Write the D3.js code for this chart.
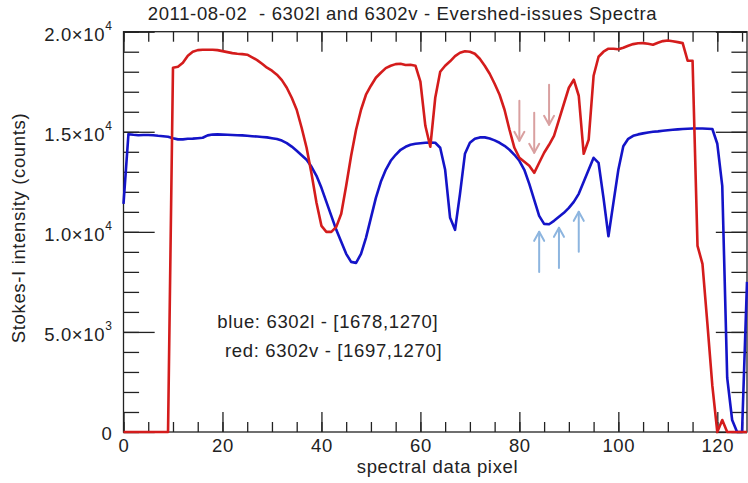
<!DOCTYPE html>
<html>
<head>
<meta charset="utf-8">
<script src="https://cdn.jsdelivr.net/npm/d3@7"></script>
<style>
  html, body { margin: 0; padding: 0; background: #fff; }
  svg { display: block; }
  text { font-family: "Liberation Sans", Arial, Helvetica, sans-serif; fill: #222; letter-spacing: 0.65px; }
</style>
</head>
<body>
<svg id="chart" width="748" height="483"></svg>
<script>
// ---- data ----
const pixels = d3.range(0, 127);
const blueValues = [
  11400, 14880, 14850, 14830, 14840, 14840, 14830, 14800, 14780, 14750,
  14680, 14620, 14620, 14650, 14660, 14680, 14700, 14820, 14860, 14870,
  14860, 14850, 14840, 14830, 14820, 14800, 14780, 14760, 14740, 14720,
  14680, 14640, 14560, 14430, 14260, 14050, 13830, 13600, 13250, 12800,
  12200, 11500, 10800, 10100, 9500, 8900, 8500, 8450, 8900, 9700,
  10700, 11700, 12500, 13100, 13550, 13850, 14100, 14250, 14350, 14400,
  14430, 14450, 14460, 14450, 14200, 13100, 10700, 10100, 11900, 13900,
  14450, 14650, 14720, 14720, 14660, 14570, 14450, 14300, 14100, 13850,
  13550, 13100, 12400, 11600, 10800, 10400, 10380, 10550, 10750, 10950,
  11200, 11500, 11900, 12500, 13100, 13700, 13450, 11700, 9780, 11450,
  13100, 14280, 14650, 14800, 14870, 14920, 14960, 15000, 15020, 15050,
  15080, 15100, 15120, 15140, 15150, 15160, 15160, 15160, 15150, 15140,
  14400, 12300, 2700, 600, 0, 0, 7500
];
const redValues = [
  0, 0, 0, 0, 0, 0, 0, 0, 0, 0,
  18200, 18250, 18450, 18800, 19000, 19080, 19100, 19100, 19100, 19080,
  19030, 18980, 18930, 18900, 18880, 18850, 18720, 18580, 18400, 18200,
  18050, 17850, 17580, 17200, 16700, 16100, 15200, 14200, 12900, 11450,
  10300, 10000, 10000, 10250, 10900, 12300, 13800, 15100, 16100, 16850,
  17300, 17700, 17950, 18180, 18300, 18380, 18400, 18340, 18350, 18300,
  17500, 15300, 14250, 16700, 18000, 18300, 18520, 18780, 18950, 19020,
  19000, 18900, 18650, 18300, 17900, 17400, 16850, 16100, 15100, 14200,
  13700, 13500, 13300, 12950, 13450, 13950, 14350, 14800, 15600, 16400,
  17200, 17600, 16800, 13900, 14600, 17800, 18750, 19000, 19150, 19150,
  19120, 19200, 19300, 19380, 19420, 19430, 19400, 19350, 19450, 19530,
  19560, 19520, 19480, 19430, 18550, 18550, 9300, 8400, 5400, 2300,
  0, 600, 0, 0, 0, 0, 0
];
// arrows: pixel position and tip intensity
const redArrowX = [80, 83, 86];
const redArrowTip = [14550, 13950, 15350];
const blueArrowX = [84, 88, 92];
const blueArrowTip = [10000, 10200, 11000];
const arrowLength = 2000;

const xMajorTicks = [0, 20, 40, 60, 80, 100, 120];
const xMinorTicks = d3.range(0, 127, 5);
const yMajorTicks = [0, 5000, 10000, 15000, 20000];
const yMinorTicks = d3.range(0, 20001, 1000);
const yTickMantissa = ["0", "5.0\u00D710", "1.0\u00D710", "1.5\u00D710", "2.0\u00D710"];
const yTickExponent = ["", "3", "4", "4", "4"];

const titleText = "2011-08-02  - 6302l and 6302v - Evershed-issues Spectra";
const xTitle = "spectral data pixel";
const yTitle = "Stokes-I intensity (counts)";
const legendLines = ["blue: 6302l - [1678,1270]", "red: 6302v - [1697,1270]"];

// ---- drawing ----
const svg = d3.select("#chart");
const x = d3.scaleLinear().domain([0, 126]).range([123.5, 747]);
const y = d3.scaleLinear().domain([0, 20000]).range([432, 31.7]);
const L = x.range()[0], R = x.range()[1], B = y.range()[0], T = y.range()[1];
const plotW = R - L, plotH = B - T;
const axisColor = "#222";
const fs = 18.5;

function styleAxis(g) {
  g.select(".domain").remove();
  g.selectAll(".tick line").attr("stroke", axisColor).attr("stroke-width", 1.3);
}

// bottom
svg.append("g").attr("transform", `translate(0,${B})`)
  .call(d3.axisBottom(x).tickValues(xMinorTicks).tickSize(-plotH * 0.025).tickFormat(""))
  .call(styleAxis);
const bottomMajor = svg.append("g").attr("transform", `translate(0,${B})`)
  .call(d3.axisBottom(x).tickValues(xMajorTicks).tickSize(-plotH * 0.05).tickPadding(7).tickFormat(d3.format("d")))
  .call(styleAxis);
bottomMajor.attr("font-family", null).attr("font-size", null);
bottomMajor.selectAll("text").attr("font-size", fs).attr("fill", "#222");
// top
svg.append("g").attr("transform", `translate(0,${T})`)
  .call(d3.axisTop(x).tickValues(xMinorTicks).tickSize(-plotH * 0.025).tickFormat(""))
  .call(styleAxis);
svg.append("g").attr("transform", `translate(0,${T})`)
  .call(d3.axisTop(x).tickValues(xMajorTicks).tickSize(-plotH * 0.05).tickFormat(""))
  .call(styleAxis);
// left
svg.append("g").attr("transform", `translate(${L},0)`)
  .call(d3.axisLeft(y).tickValues(yMinorTicks).tickSize(-plotW * 0.025).tickFormat(""))
  .call(styleAxis);
svg.append("g").attr("transform", `translate(${L},0)`)
  .call(d3.axisLeft(y).tickValues(yMajorTicks).tickSize(-plotW * 0.05).tickFormat(""))
  .call(styleAxis);
// right
svg.append("g").attr("transform", `translate(${R},0)`)
  .call(d3.axisRight(y).tickValues(yMinorTicks).tickSize(-plotW * 0.025).tickFormat(""))
  .call(styleAxis);
svg.append("g").attr("transform", `translate(${R},0)`)
  .call(d3.axisRight(y).tickValues(yMajorTicks).tickSize(-plotW * 0.05).tickFormat(""))
  .call(styleAxis);

// frame
svg.append("rect").attr("x", L).attr("y", T).attr("width", plotW).attr("height", plotH)
  .attr("fill", "none").attr("stroke", axisColor).attr("stroke-width", 1.3);

// y tick labels with superscripts
yMajorTicks.forEach((v, i) => {
  const t = svg.append("text")
    .attr("x", 112.5).attr("y", y(v) + (v === 0 ? 8 : 9.3))
    .attr("text-anchor", "end").attr("font-size", fs);
  t.append("tspan").text(yTickMantissa[i]);
  if (yTickExponent[i]) {
    t.append("tspan").attr("font-size", 12).attr("dy", -11).text(yTickExponent[i]);
  }
});

// curves
const line = d3.line().x((d, i) => x(pixels[i])).y(d => y(d));
svg.append("path").datum(blueValues).attr("d", line)
  .attr("fill", "none").attr("stroke", "#1414c8").attr("stroke-width", 2.6)
  .attr("stroke-linejoin", "round");
svg.append("path").datum(redValues).attr("d", line)
  .attr("fill", "none").attr("stroke", "#d41c1c").attr("stroke-width", 2.6)
  .attr("stroke-linejoin", "round");

// arrows
function arrow(px, tipV, dir, color) {
  // dir = +1 : pointing down (tail above), -1 : pointing up
  const xt = x(px), yt = y(tipV), yTail = y(tipV + dir * arrowLength);
  const head = 9, half = 5;
  const g = svg.append("g").attr("stroke", color).attr("stroke-width", 2).attr("fill", "none")
    .attr("stroke-linecap", "round").attr("stroke-linejoin", "round");
  g.append("line").attr("x1", xt).attr("y1", yTail).attr("x2", xt).attr("y2", yt);
  const hy = yt - dir * head;
  g.append("path").attr("d", `M${xt - half},${hy} L${xt},${yt} L${xt + half},${hy}`);
}
redArrowX.forEach((px, i) => arrow(px, redArrowTip[i], 1, "#d9a0a0"));
blueArrowX.forEach((px, i) => arrow(px, blueArrowTip[i], -1, "#8db5df"));

// legend text
svg.append("text").attr("x", 217.3).attr("y", 328.3).attr("font-size", fs).text(legendLines[0]);
svg.append("text").attr("x", 225).attr("y", 356.7).attr("font-size", fs).text(legendLines[1]);

// titles
svg.append("text").attr("x", 147.7).attr("y", 20).attr("font-size", fs)
  .style("white-space", "pre").text(titleText);
svg.append("text").attr("x", 437.5).attr("y", 473).attr("font-size", fs)
  .attr("text-anchor", "middle").text(xTitle);
svg.append("text").attr("transform", `translate(25,228) rotate(-90)`)
  .attr("font-size", fs).attr("text-anchor", "middle").text(yTitle);
</script>
</body>
</html>
